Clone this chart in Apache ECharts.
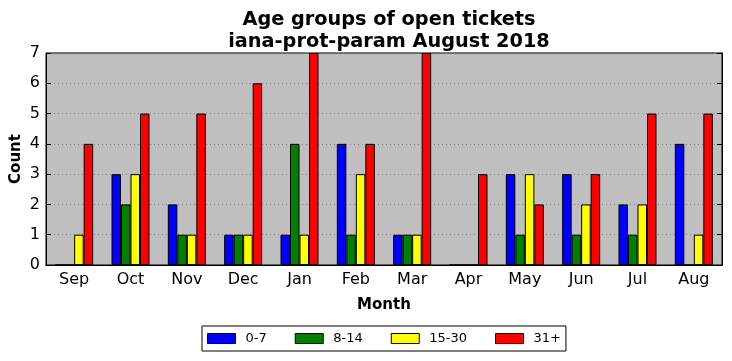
<!DOCTYPE html>
<html><head><meta charset="utf-8">
<script src="https://cdn.jsdelivr.net/npm/echarts@6/dist/echarts.min.js"></script>
<style>html,body{margin:0;padding:0;background:#fff}#c{width:732px;height:361px}</style>
</head><body><div id="c"></div>
<script>
const months = ['Sep','Oct','Nov','Dec','Jan','Feb','Mar','Apr','May','Jun','Jul','Aug'];
const s0_7   = [0,3,2,1,1,4,1,0,3,3,2,4];
const s8_14  = [0,2,1,1,4,1,1,0,1,1,1,0];
const s15_30 = [1,3,1,1,1,3,1,0,3,2,2,1];
const s31p   = [4,5,5,6,7,4,7,3,2,3,5,5];
const yTicks = [0,1,2,3,4,5,6,7];

const FONT = 'DejaVu Sans';
const chart = echarts.init(document.getElementById('c'), null, {renderer:'canvas'});
function bar(name, data, color){
  return {name, type:'bar', data, barWidth:9.5, barGap:'0%',
    itemStyle:{color, borderColor:'#000', borderWidth:1}, emphasis:{disabled:true}};
}
chart.setOption({
  animation:false,
  textStyle:{fontFamily:FONT},
  title:{text:'Age groups of open tickets\niana-prot-param August 2018',
    left:384, top:4, textAlign:'center',
    textStyle:{fontFamily:FONT, fontWeight:'bold', fontSize:19.3, lineHeight:22, color:'#000'}},
  grid:{left:46, right:10, top:53, bottom:96, show:true, containLabel:false, outerBoundsMode:'none',
    backgroundColor:'#bfbfbf', borderColor:'#000', borderWidth:1},
  legend:{left:202, top:326, itemWidth:28, itemHeight:10, itemGap:28,
    padding:[6,5,6,5], borderColor:'#000', borderWidth:1, icon:'rect',
    itemStyle:{borderColor:'#000', borderWidth:1},
    textStyle:{fontFamily:FONT, fontSize:13, color:'#000', padding:[0,0,0,5]},
    data:['0-7','8-14','15-30','31+']},
  xAxis:[{type:'category', data:months, name:'Month', nameLocation:'middle', nameGap:33,
    nameTextStyle:{fontFamily:FONT, fontWeight:'bold', fontSize:15, color:'#000'},
    axisLine:{lineStyle:{color:'#000'}}, axisTick:{inside:true, alignWithLabel:true, length:5, lineStyle:{color:'#000'}},
    axisLabel:{fontFamily:FONT, fontSize:16, color:'#000', margin:7}},
   {type:'category', data:months, position:'top',
    axisLine:{lineStyle:{color:'#000'}}, axisTick:{inside:true, alignWithLabel:true, length:5, lineStyle:{color:'#000'}},
    axisLabel:{show:false}}],
  yAxis:[{type:'value', min:0, max:7, interval:1, name:'Count', nameLocation:'middle', nameGap:22, nameMoveOverlap:false,
    nameTextStyle:{fontFamily:FONT, fontWeight:'bold', fontSize:15, color:'#000'},
    axisLine:{show:true, lineStyle:{color:'#000'}}, axisTick:{show:true, inside:true, length:5, lineStyle:{color:'#000'}},
    axisLabel:{fontFamily:FONT, fontSize:16, color:'#000', margin:6, formatter:v=>yTicks.includes(v)?String(v):''},
    splitLine:{show:true, lineStyle:{color:'#808080', type:[1,3], width:1}}},
   {type:'value', min:0, max:7, interval:1, position:'right',
    axisLine:{show:true, lineStyle:{color:'#000'}}, axisTick:{show:true, inside:true, length:5, lineStyle:{color:'#000'}},
    axisLabel:{show:false}, splitLine:{show:false}}],
  series:[bar('0-7',s0_7,'#0000ff'), bar('8-14',s8_14,'#008000'), bar('15-30',s15_30,'#ffff00'), bar('31+',s31p,'#ff0000')]
});
</script></body></html>
